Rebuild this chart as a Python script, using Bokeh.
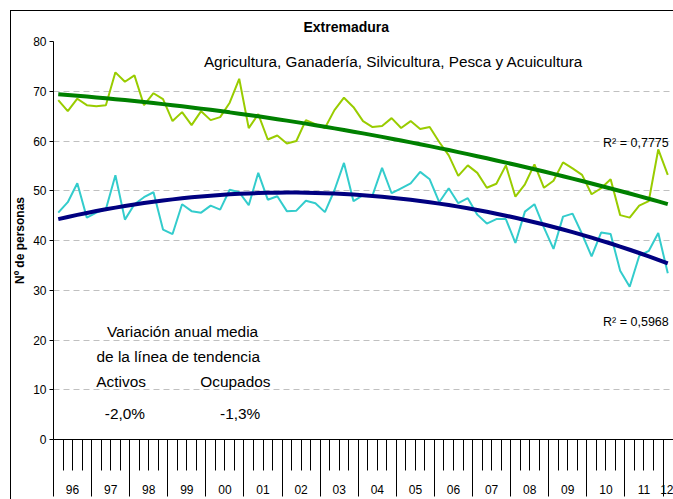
import numpy as np
from bokeh.plotting import figure
from bokeh.models import Range1d, FixedTicker, Label, LinearAxis, InlineStyleSheet
from bokeh.embed import file_html
from bokeh.resources import INLINE

# ---------------- data ----------------
year_labels = ["96", "97", "98", "99", "00", "01", "02", "03", "04", "05",
               "06", "07", "08", "09", "10", "11", "12"]
quarters_per_year = [4] * 16 + [1]

# Activos (thousands of persons), 1996T1 .. 2012T1
activos = [68.2, 66.0, 68.5, 67.2, 67.0, 67.2, 73.8, 71.9, 73.2, 67.2,
           69.6, 68.4, 64.0, 65.8, 63.2, 66.0, 64.2, 64.8, 67.7, 72.5,
           62.6, 65.4, 60.3, 61.1, 59.5, 60.0, 64.2, 63.4, 62.6, 66.2,
           68.7, 66.8, 64.0, 62.8, 63.0, 64.6, 62.6, 64.0, 62.4, 62.8,
           59.8, 57.1, 53.0, 55.1, 53.6, 50.6, 51.4, 55.1, 48.8, 51.3,
           55.3, 50.6, 52.0, 55.7, 54.5, 53.2, 49.3, 50.5, 52.3, 45.1,
           44.6, 47.0, 47.9, 58.3, 53.2]
# Ocupados
ocupados = [45.6, 47.7, 51.5, 44.6, 45.6, 46.3, 53.1, 44.2, 47.3, 48.7,
            49.7, 42.2, 41.3, 47.3, 45.9, 45.6, 47.0, 46.2, 50.2, 49.7,
            47.1, 53.6, 48.2, 48.9, 45.9, 46.0, 48.0, 47.5, 45.7, 50.1,
            55.6, 47.9, 49.1, 49.1, 54.6, 49.5, 50.5, 51.5, 53.8, 52.3,
            47.7, 50.5, 47.5, 48.5, 45.2, 43.4, 44.3, 44.3, 39.5, 45.8,
            47.3, 42.6, 38.3, 44.8, 45.4, 41.3, 36.8, 41.6, 41.3, 33.9,
            30.7, 36.9, 37.9, 41.5, 33.4]

y_ticks = [0, 10, 20, 30, 40, 50, 60, 70, 80]
r2_activos = "R² = 0,7775"
r2_ocupados = "R² = 0,5968"
var_activos = "-2,0%"
var_ocupados = "-1,3%"

# ---------------- derived ----------------
n = len(activos)
idx = np.arange(n)
xc = idx + 0.5
t = idx + 1
trend_a = np.polyval(np.polyfit(t, activos, 2), t)
trend_o = np.polyval(np.polyfit(t, ocupados, 2), t)

bounds = np.concatenate([[0], np.cumsum(quarters_per_year)])
year_bounds = [int(b) for b in bounds[:-1]]
quarter_bounds = [q for q in range(0, int(bounds[-1])) if q not in year_bounds]
year_centers = []
for k in range(len(year_labels)):
    c = (bounds[k] + bounds[k + 1]) / 2
    year_centers.append(int(c) if float(c).is_integer() else float(c))

SANS = "Liberation Sans"

p = figure(width=673, height=499, output_backend="svg", toolbar_location=None,
           x_range=Range1d(0, 65.1), y_range=Range1d(0, 80),
           min_border_left=53, min_border_right=0, min_border_top=41, min_border_bottom=60)
p.outline_line_color = None
p.background_fill_color = "white"
p.border_fill_color = "white"
# outer chart border (top and left edges; the rest is cut off by the window)
p.stylesheets = [InlineStyleSheet(css="""
:host { position: relative; }
:host::after {
  content: "";
  position: absolute;
  left: 10px; top: 10px; right: 0; bottom: 0;
  border-left: 1.5px solid #000;
  border-top: 1.5px solid #000;
  pointer-events: none;
  z-index: 1000;
}
""")]

# title
p.title.text = "Extremadura"
p.title.text_font = SANS
p.title.text_font_style = "bold"
p.title.text_font_size = "14px"
p.title.text_color = "black"
p.title.align = "left"
p.title.offset = 250
p.title.standoff = 13

# grid
p.xgrid.visible = False
p.ygrid.ticker = FixedTicker(ticks=y_ticks[1:])
p.ygrid.grid_line_color = "#c0c0c0"
p.ygrid.grid_line_dash = "6 4"

# y axis
p.yaxis.ticker = FixedTicker(ticks=y_ticks)
p.yaxis.major_tick_out = 4
p.yaxis.major_tick_in = 0
p.yaxis.minor_tick_out = 0
p.yaxis.minor_tick_in = 0
p.yaxis.major_label_standoff = 3
p.yaxis.major_label_text_font = SANS
p.yaxis.major_label_text_font_size = "12px"
p.yaxis.major_label_text_color = "black"
p.yaxis.axis_line_color = "black"
p.yaxis.major_tick_line_color = "black"
p.yaxis.axis_label = "Nº de personas"
p.yaxis.axis_label_text_font = SANS
p.yaxis.axis_label_text_font_style = "bold"
p.yaxis.axis_label_text_font_size = "12px"
p.yaxis.axis_label_text_color = "black"
p.yaxis.axis_label_standoff = 3

# x axis A: year boundaries (long) and quarter ticks (short), no labels
xa = p.xaxis[0]
xa.ticker = FixedTicker(ticks=year_bounds, minor_ticks=quarter_bounds)
xa.major_tick_out = 57
xa.major_tick_in = 0
xa.minor_tick_out = 31
xa.minor_tick_in = 0
xa.major_label_overrides = {b: "" for b in year_bounds}
xa.major_label_text_font_size = "1px"
xa.major_label_standoff = 0
xa.axis_line_color = "black"
xa.major_tick_line_color = "black"
xa.minor_tick_line_color = "black"

# x axis B: year labels centred in each year
xb = LinearAxis(ticker=FixedTicker(ticks=year_centers, minor_ticks=[]))
xb.major_label_overrides = {c: lbl for c, lbl in zip(year_centers, year_labels)}
xb.major_tick_out = 0
xb.major_tick_in = 0
xb.minor_tick_out = 0
xb.minor_tick_in = 0
xb.axis_line_color = None
xb.major_label_standoff = -12
xb.major_label_text_font = SANS
xb.major_label_text_font_size = "12px"
xb.major_label_text_color = "black"
p.add_layout(xb, "below")

# series
p.line(xc, activos, line_color="#99cc00", line_width=2)
p.line(xc, ocupados, line_color="#33cccc", line_width=2)
p.line(xc, trend_a, line_color="#008000", line_width=4)
p.line(xc, trend_o, line_color="#000080", line_width=4)

def lab(x, y, text, size="15.4px", align="center"):
    p.add_layout(Label(x=x, y=y, text=text, text_align=align, text_baseline="middle",
                       text_font=SANS, text_font_size=size, text_color="black"))

lab(35.7, 76.0, "Agricultura, Ganadería, Silvicultura, Pesca y Acuicultura", size="15.3px")
lab(64.6, 59.5, r2_activos, size="12.5px", align="right")
lab(64.6, 23.7, r2_ocupados, size="12.5px", align="right")
lab(13.55, 21.7, "Variación anual media")
lab(13.1, 16.7, "de la línea de tendencia")
lab(7.1, 11.7, "Activos")
lab(19.1, 11.7, "Ocupados")
lab(7.5, 5.2, var_activos)
lab(19.6, 5.2, var_ocupados)

open("out.html", "w").write(file_html(p, INLINE))
